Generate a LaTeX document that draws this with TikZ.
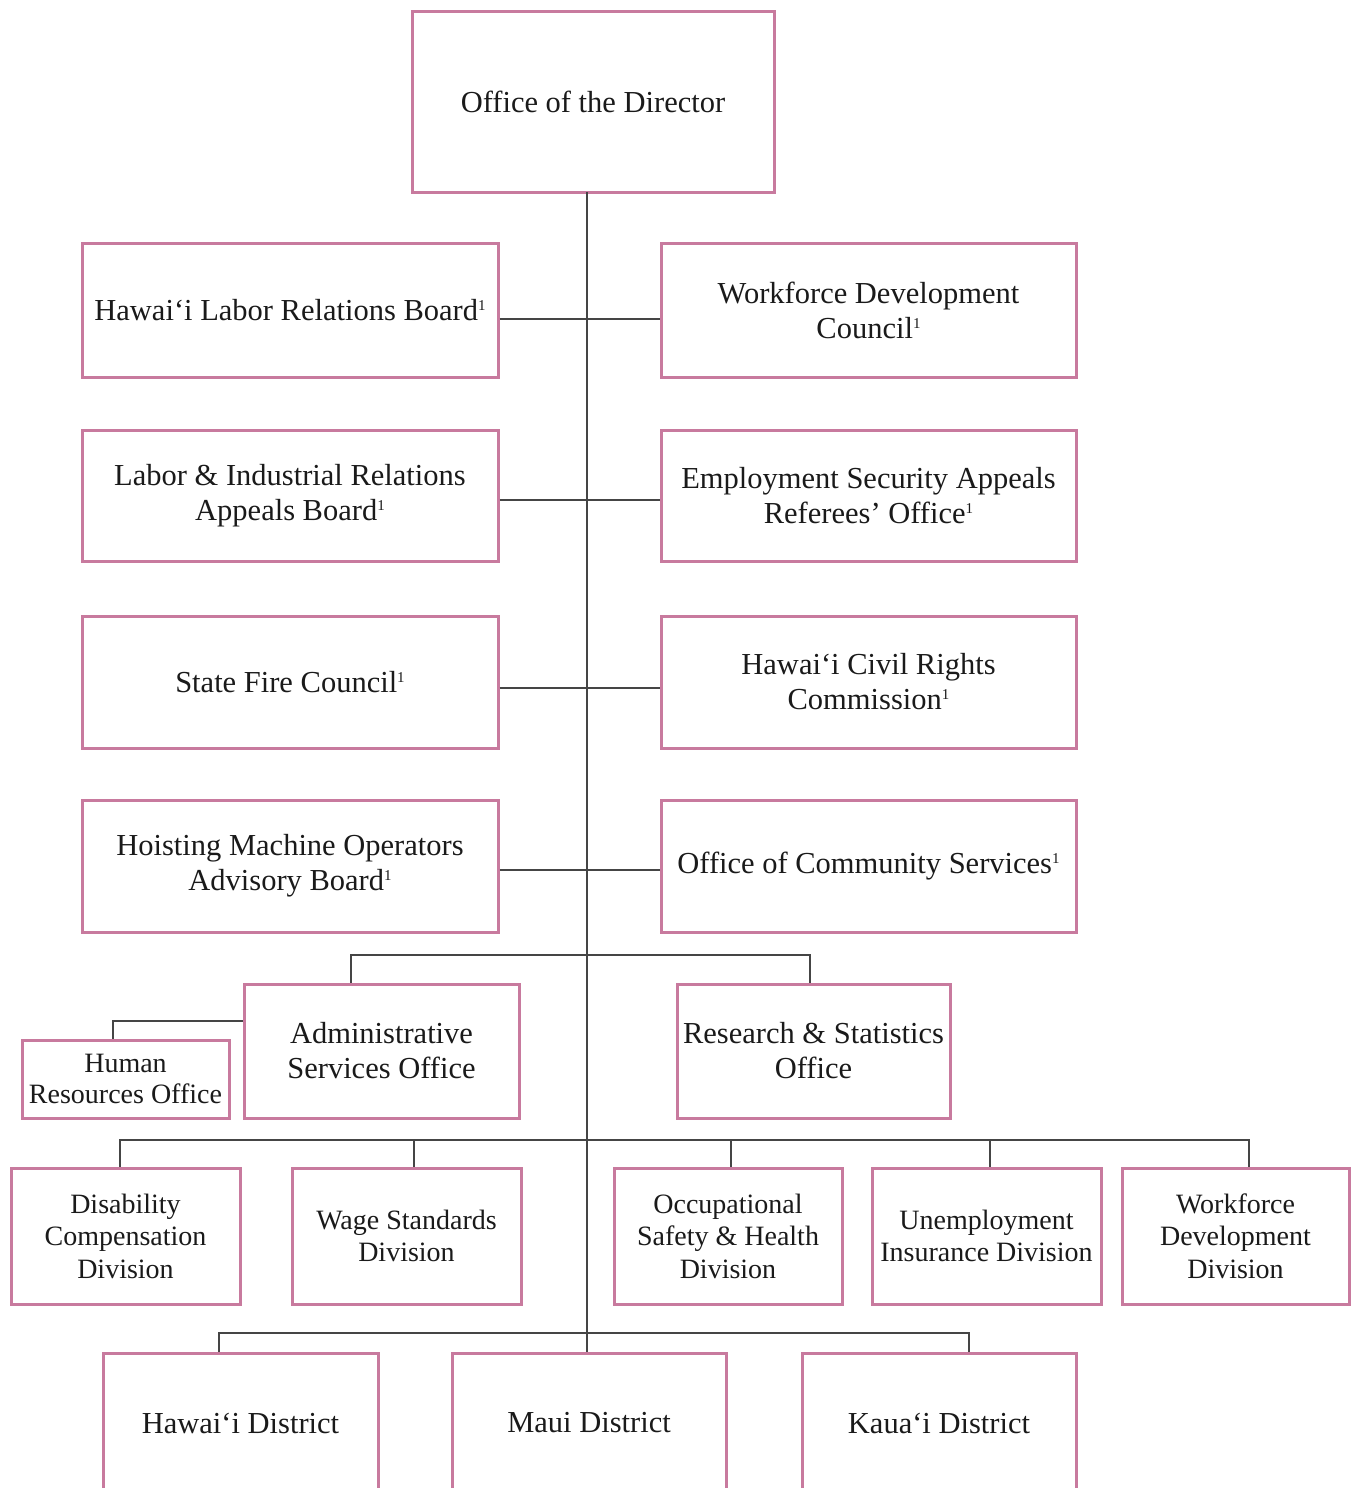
\documentclass[tikz,border=0pt]{standalone}
\usepackage{fontspec}
\setmainfont{Liberation Serif}
\definecolor{boxc}{HTML}{C87A9E}
\definecolor{linec}{HTML}{454545}
\definecolor{txtc}{HTML}{1A1A1A}
\newcommand{\sone}{\raisebox{10pt}{\fontsize{15}{15}\selectfont 1}}
\newcommand{\orgbox}[7][]{%
  \node[orgb,#1,minimum width={(#5-#3)*1pt},minimum height={(#6-#4)*1pt}] (#2) at ({(#3+#5)/2},{(#4+#6)/2}) {#7};}
\begin{document}
\begin{tikzpicture}[x=1pt,y=-1pt,
  orgb/.style={draw=boxc,line width=3pt,fill=white,inner sep=0pt,align=center,text=txtc,
     font=\fontsize{30.5}{35}\selectfont},
  smallb/.style={font=\fontsize{28}{32.5}\selectfont},
  hrb/.style={font=\fontsize{28}{31}\selectfont},
  conn/.style={draw=linec,line width=2pt}]
\useasboundingbox[fill=white] (0,0) rectangle (1351,1488);

% top
\orgbox{dir}{412}{12}{774}{192}{Office of the Director}
% left column
\orgbox{hlrb}{82}{243}{498}{377}{Hawai‘i Labor Relations Board\sone}
\orgbox{lirab}{82}{430}{498}{561}{Labor \& Industrial Relations\\Appeals Board\sone}
\orgbox{sfc}{82}{616}{498}{748}{State Fire Council\sone}
\orgbox{hmoab}{82}{800}{498}{932}{Hoisting Machine Operators\\Advisory Board\sone}
% right column
\orgbox{wdc}{661}{243}{1076}{377}{Workforce Development\\Council\sone}
\orgbox{esaro}{661}{430}{1076}{561}{Employment Security Appeals\\Referees’ Office\sone}
\orgbox{hcrc}{661}{616}{1076}{748}{Hawai‘i Civil Rights\\Commission\sone}
\orgbox{ocs}{661}{800}{1076}{932}{Office of Community Services\sone}
% staff offices
\orgbox{adm}{244}{984}{519}{1118}{Administrative\\Services Office}
\orgbox{rs}{677}{984}{950}{1118}{Research \& Statistics\\Office}
\orgbox[hrb]{hr}{22}{1040}{229}{1118}{Human\\Resources Office}
% divisions
\orgbox[smallb]{dcd}{11}{1168}{240}{1304}{Disability\\Compensation\\Division}
\orgbox[smallb]{wsd}{292}{1168}{521}{1304}{Wage Standards\\Division}
\orgbox[smallb]{osh}{614}{1168}{842}{1304}{Occupational\\Safety \& Health\\Division}
\orgbox[smallb]{uid}{872}{1168}{1101}{1304}{Unemployment\\Insurance Division}
\orgbox[smallb]{wdd}{1122}{1168}{1349}{1304}{Workforce\\Development\\Division}
% districts
\orgbox{hd}{103}{1353}{378}{1493}{Hawai‘i District}
\orgbox{md}{452}{1353}{726}{1493}{Maui District}
\orgbox{kd}{802}{1353}{1076}{1493}{Kaua‘i District}

% trunk
\coordinate (t0) at (587,192);
\coordinate (b1) at (587,955);
\coordinate (b2) at (587,1140);
\coordinate (b3) at (587,1333);
\draw[conn] (t0) -- (t0 |- md.north);

% side connectors
\draw[conn] ([yshift=-9pt]hlrb.east) -- ([yshift=-9pt]wdc.west);
\draw[conn] ([yshift=-4.5pt]lirab.east) -- ([yshift=-4.5pt]esaro.west);
\draw[conn] ([yshift=-6pt]sfc.east) -- ([yshift=-6pt]hcrc.west);
\draw[conn] ([yshift=-4pt]hmoab.east) -- ([yshift=-4pt]ocs.west);

% staff bus
\coordinate (admd) at ([xshift=-30.5pt]adm.north);
\coordinate (rsd) at ([xshift=-3.5pt]rs.north);
\draw[conn] (admd) |- (b1) -| (rsd);
\coordinate (adml) at ([yshift=30pt]adm.west);
\coordinate (hrd) at ([xshift=-12.5pt]hr.north);
\draw[conn] (adml) -| (hrd);

% division bus
\coordinate (dcdd) at ([xshift=-5.5pt]dcd.north);
\coordinate (wsdd) at ([xshift=7.5pt]wsd.north);
\coordinate (oshd) at ([xshift=3pt]osh.north);
\coordinate (uidd) at ([xshift=3.5pt]uid.north);
\coordinate (wddd) at ([xshift=13.5pt]wdd.north);
\draw[conn] (dcdd) |- (b2) -| (wddd);
\draw[conn] (wsdd) -- (wsdd |- b2);
\draw[conn] (oshd) -- (oshd |- b2);
\draw[conn] (uidd) -- (uidd |- b2);

% district bus
\coordinate (hdd) at ([xshift=-21.5pt]hd.north);
\coordinate (kdd) at ([xshift=30pt]kd.north);
\draw[conn] (hdd) |- (b3) -| (kdd);
\end{tikzpicture}
\end{document}
